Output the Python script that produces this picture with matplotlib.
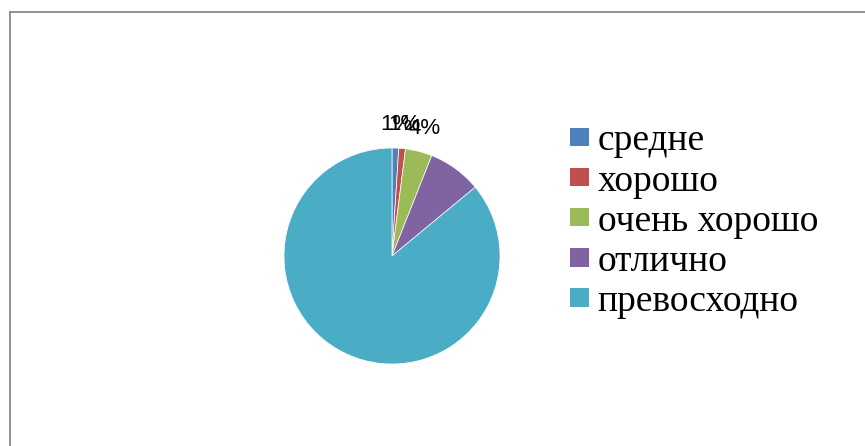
import matplotlib
matplotlib.use("Agg")
import matplotlib.pyplot as plt
from matplotlib.patches import Patch
from matplotlib.lines import Line2D
import numpy as np

categories = ["средне", "хорошо", "очень хорошо", "отлично", "превосходно"]
values = [1, 1, 4, 8, 86]
shown_labels = ["1%", "1%", "4%", "", ""]
colors = ["#4F81BD", "#C0504D", "#9BBB59", "#8064A2", "#4BACC6"]

W, H, DPI = 865, 446, 100
fig = plt.figure(figsize=(W / DPI, H / DPI), dpi=DPI)
fig.patch.set_facecolor("white")

# pie axes: center (392,256) px, radius 108 px
R = 108
cx, cy = 392, 256
lim = 1.25
side = 2 * R * lim
ax = fig.add_axes([(cx - side / 2) / W, (H - cy - side / 2) / H, side / W, side / H])
ax.set_xlim(-lim, lim)
ax.set_ylim(-lim, lim)
ax.set_aspect("equal")
ax.axis("off")

wedges, _ = ax.pie(values, colors=colors, startangle=90, counterclock=False,
                   radius=1.0, wedgeprops=dict(linewidth=0.5, edgecolor="white"))

total = sum(values)
cum = 0.0
for v, lab in zip(values, shown_labels):
    mid = (cum + v / 2) / total * 360.0
    cum += v
    if not lab:
        continue
    ang = np.deg2rad(90 - mid)
    r = 1.22
    ax.text(r * np.cos(ang), r * np.sin(ang), lab, ha="center", va="center",
            fontsize=16, family=["Liberation Sans", "DejaVu Sans"], color="black")

handles = [Patch(facecolor=c, edgecolor="none") for c in colors]
fig.legend(handles, categories, loc="upper left",
           bbox_to_anchor=(570 / W, 1 - 124 / H), frameon=False,
           prop=dict(family=["Liberation Serif", "DejaVu Serif"], size=27),
           handlelength=0.5, handleheight=0.37, handletextpad=0.24,
           labelspacing=0.15, borderpad=0, borderaxespad=0)

# outer frame (only top and left visible)
fc = "#8a8a8a"
fig.add_artist(Line2D([9.5 / W, 9.5 / W], [0, 1 - 12 / H], transform=fig.transFigure,
                      color=fc, linewidth=1.3))
fig.add_artist(Line2D([9.5 / W, 1], [1 - 12 / H, 1 - 12 / H], transform=fig.transFigure,
                      color=fc, linewidth=1.3))

fig.savefig("out.png", dpi=DPI, facecolor="white")
